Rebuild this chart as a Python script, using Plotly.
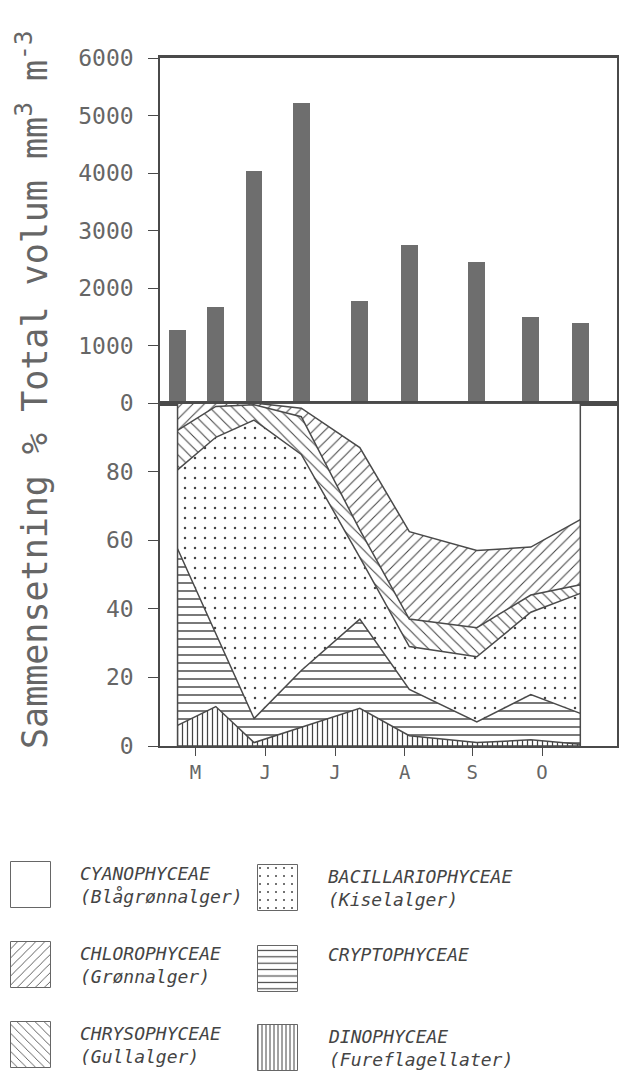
import plotly.graph_objects as go

# sampling dates, counted as days after 1 May
sample_day = [6, 23, 40, 61, 87, 109, 139, 163, 185]

# total phytoplankton volume, mm3 m-3
total_volume = [1270, 1670, 4035, 5220, 1780, 2750, 2450, 1500, 1390]

# composition in percent (bottom to top of the stack)
dinophyceae = [6, 11.5, 1, 5.5, 11, 3, 1, 1.8, 0.5]
cryptophyceae = [51.5, 21.5, 7, 16.5, 26, 13.5, 6, 13.2, 9]
bacillariophyceae = [23, 57, 87, 63, 18, 12.5, 19, 24, 35]
chrysophyceae = [11.5, 9, 4.5, 11, 8, 8, 8.5, 5, 2.5]
chlorophyceae = [8, 1, 0.5, 2.5, 24, 25.5, 22.5, 14, 19]
cyanophyceae = [0, 0, 0, 1.5, 13, 37.5, 43, 42, 34]

month_day = [14, 45, 76, 107, 137, 168]
month_label = ['M', 'J', 'J', 'A', 'S', 'O']

W, H = 619, 1072
FONT = 'DejaVu Sans Mono'
INK = '#4a4a4a'
TXT = '#666666'

# pattern per group: shape, tile size, solidity
patterns = {
    'DINOPHYCEAE': ('|', 5, 0.25),
    'CRYPTOPHYCEAE': ('-', 8, 0.18),
    'BACILLARIOPHYCEAE': ('.', 10, 0.05),
    'CHRYSOPHYCEAE': ('\\', 8, 0.13),
    'CHLOROPHYCEAE': ('/', 8, 0.13),
    'CYANOPHYCEAE': ('', 8, 0.2),
}

layers = [
    ('DINOPHYCEAE', dinophyceae),
    ('CRYPTOPHYCEAE', cryptophyceae),
    ('BACILLARIOPHYCEAE', bacillariophyceae),
    ('CHRYSOPHYCEAE', chrysophyceae),
    ('CHLOROPHYCEAE', chlorophyceae),
    ('CYANOPHYCEAE', cyanophyceae),
]

fig = go.Figure()

fig.add_trace(go.Bar(x=sample_day, y=total_volume, width=7.5,
                     marker=dict(color='#6e6e6e', line=dict(width=0)),
                     xaxis='x', yaxis='y', showlegend=False))

for name, vals in layers:
    shp, sz, sol = patterns[name]
    fig.add_trace(go.Scatter(
        x=sample_day, y=vals, name=name, stackgroup='one', mode='lines',
        line=dict(color=INK, width=1.5),
        fillcolor='white',
        fillpattern=dict(shape=shp, size=sz, solidity=sol,
                         fgcolor='#444444', bgcolor='white'),
        xaxis='x2', yaxis='y2', showlegend=False))

# frame round the composition area, from first to last sample
fig.add_shape(type='rect', xref='x2', yref='y2',
              x0=sample_day[0], x1=sample_day[-1], y0=0, y1=100,
              line=dict(color=INK, width=1.5))

# legend, drawn on an overlay axis in page pixels
legend_names = ['CYANOPHYCEAE', 'CHLOROPHYCEAE', 'CHRYSOPHYCEAE',
                'BACILLARIOPHYCEAE', 'CRYPTOPHYCEAE', 'DINOPHYCEAE']
legend_sub = ['(Blågrønnalger)', '(Grønnalger)', '(Gullalger)',
              '(Kiselalger)', '', '(Fureflagellater)']
sw_x = [31, 31, 31, 278, 278, 278]
sw_top = [862, 942, 1022, 865, 946, 1025]
txt_x = [78, 78, 78, 326, 326, 326]

fig.add_trace(go.Bar(
    x=sw_x, y=[46] * 6, base=sw_top, width=40,
    marker=dict(color='white', line=dict(color='#666', width=1),
                pattern=dict(shape=[patterns[n][0] for n in legend_names],
                             size=[patterns[n][1] * 0.8 for n in legend_names],
                             solidity=[patterns[n][2] for n in legend_names],
                             fgcolor='#444444', bgcolor='white')),
    xaxis='x3', yaxis='y3', showlegend=False, hoverinfo='skip'))

for n, s, tx, ty in zip(legend_names, legend_sub, txt_x, sw_top):
    text = '<i>' + n + '</i>' + ('<br><i>' + s + '</i>' if s else '')
    yc = ty + 23 if s else ty + 8
    fig.add_annotation(x=tx, y=yc, xref='x3', yref='y3', text=text,
                       showarrow=False, xanchor='left', yanchor='middle',
                       align='left', font=dict(family=FONT, size=18, color='#444'))

fig.add_annotation(
    x=32 / W, y=1 - 390 / H, xref='paper', yref='paper', textangle=-90,
    text='Sammensetning % Total volum mm<sup>3</sup> m<sup>-3</sup>',
    showarrow=False, xanchor='center', yanchor='middle',
    font=dict(family=FONT, size=35, color=TXT))

xdom = [160 / W, 617 / W]
xrng = [-1.8, 201.3]
tickfont = dict(family=FONT, size=23, color=TXT)

fig.update_layout(
    template='none',
    width=W, height=H, autosize=False,
    margin=dict(l=0, r=0, t=0, b=0, pad=0, autoexpand=False),
    paper_bgcolor='white', plot_bgcolor='rgba(0,0,0,0)',
    showlegend=False, bargap=0,
    xaxis=dict(domain=xdom, range=xrng, anchor='y', showticklabels=False,
               showgrid=False, zeroline=False, showline=True, mirror=True,
               linecolor=INK, linewidth=2.5, ticks='', automargin=False),
    yaxis=dict(domain=[1 - 403 / H, 1 - 58 / H], range=[0, 6000], dtick=1000,
               anchor='x', showgrid=False, zeroline=False, showline=True,
               mirror=True, linecolor=INK, linewidth=1.5, ticks='outside',
               ticklen=10, tickcolor=INK, ticklabelstandoff=10, tickfont=tickfont,
               automargin=False),
    xaxis2=dict(domain=xdom, range=xrng, anchor='y2', tickvals=month_day,
                ticktext=month_label, showgrid=False, zeroline=False,
                showline=True, mirror=True, linecolor=INK, linewidth=2,
                ticks='outside', ticklen=8, tickcolor=INK,
                tickfont=dict(family=FONT, size=19, color=TXT), automargin=False),
    yaxis2=dict(domain=[1 - 746 / H, 1 - 403 / H], range=[0, 100],
                tickvals=[0, 20, 40, 60, 80], anchor='x2', showgrid=False,
                zeroline=False, showline=True, mirror=True, linecolor=INK,
                linewidth=1.5, ticks='outside', ticklen=10, tickcolor=INK,
                ticklabelstandoff=10, tickfont=tickfont, automargin=False),
    xaxis3=dict(domain=[0, 1], range=[0, W], anchor='y3', visible=False,
                automargin=False),
    yaxis3=dict(domain=[0, 1], range=[H, 0], anchor='x3', visible=False,
                automargin=False),
)

fig.write_html("out.html", config={'displayModeBar': False},
               post_script="document.body.style.margin='0';")
